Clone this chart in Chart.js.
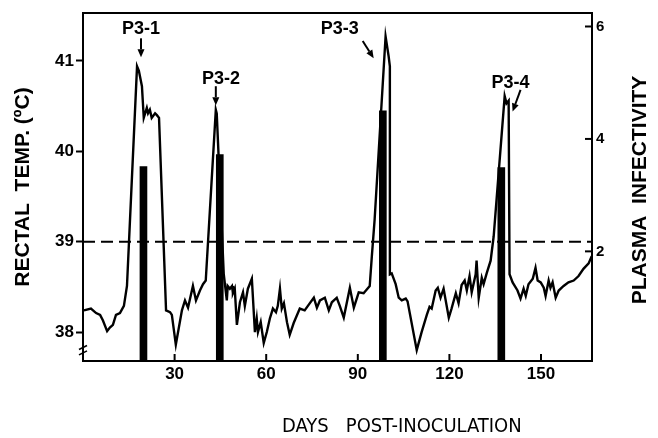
<!DOCTYPE html>
<html><head><meta charset="utf-8">
<script src="https://cdn.jsdelivr.net/npm/chart.js@4/dist/chart.umd.min.js"></script>
<style>html,body{margin:0;padding:0;background:#fff}canvas{display:block}</style>
</head><body>
<canvas id="c" width="658" height="438"></canvas>
<script>
// ---- data ----
const days = [
  0.3,2.6,4.3,5.6,6.5,7.9,8.8,9.8,10.8,12.1,13.4,14.4,
  17.7,18.3,19.3,19.9,20.9,21.3,21.9,22.5,23.6,24.2,24.9,
  27.2,28.5,29.1,30.4,32.4,33.4,34.4,35.0,36.0,37.0,38.3,39.3,40.2,
  43.5,43.8,
  46.1,47.1,47.4,48.1,48.8,49.1,49.7,50.4,51.4,52.4,
  53.0,54.0,55.3,56.3,56.9,57.3,58.2,59.2,60.2,61.2,
  62.2,63.2,63.8,64.5,65.1,65.8,66.8,67.7,69.0,71.0,
  72.6,74.3,75.6,76.6,77.6,79.2,80.5,81.5,83.1,84.1,
  85.4,87.4,88.7,90.3,91.9,93.9,94.6,95.5,
  99.1,100.1,100.5,100.5,101.1,102.4,103.4,104.4,105.7,106.3,
  109.3,110.9,112.6,113.5,114.2,115.5,116.2,117.1,118.1,119.8,
  120.7,122.1,123.0,124.0,125.0,125.7,126.6,127.3,128.6,128.9,
  129.6,130.6,131.2,132.2,133.5,134.5,
  138.1,138.7,139.4,139.7,
  140.7,142.3,143.3,144.3,145.0,145.9,147.3,148.2,148.9,149.9,
  150.9,151.5,152.5,153.1,153.8,154.8,155.8,157.4,159.0,160.7,
  162.3,163.9,165.6,166.6
];
const rectalTemp = [
  38.24,38.26,38.21,38.19,38.13,38.01,38.05,38.08,38.19,38.21,38.29,38.51,
  40.94,40.89,40.72,40.37,40.48,40.42,40.46,40.37,40.42,40.40,40.37,
  38.24,38.22,38.19,37.86,38.24,38.35,38.27,38.36,38.51,38.35,38.46,38.53,38.57,
  40.46,40.42,
  38.64,38.35,38.51,38.48,38.51,38.43,38.48,38.08,38.33,38.44,
  38.29,38.48,38.59,38.00,38.15,38.00,38.11,37.88,38.00,38.15,
  38.26,38.22,38.29,38.48,38.26,38.32,38.11,37.97,38.10,38.26,
  38.24,38.32,38.38,38.27,38.35,38.38,38.24,38.33,38.38,38.29,
  38.16,38.49,38.27,38.44,38.43,38.51,38.84,39.24,
  41.27,41.05,40.94,38.64,38.65,38.53,38.38,38.35,38.37,38.34,
  37.80,38.00,38.19,38.28,38.26,38.46,38.49,38.38,38.48,38.16,
  38.26,38.43,38.32,38.52,38.57,38.46,38.62,38.44,38.64,38.79,
  38.38,38.60,38.53,38.65,38.79,39.06,
  40.61,40.53,40.56,38.64,
  38.55,38.46,38.37,38.48,38.40,38.53,38.59,38.71,38.57,38.55,
  38.49,38.40,38.57,38.49,38.55,38.38,38.46,38.51,38.55,38.57,
  38.62,38.70,38.76,38.84
];
const peakDays = [19.8, 44.8, 98.2, 137.0];
const plasmaInfectivity = [3.51, 3.72, 4.50, 3.49];
const peakLabels = ['P3-1', 'P3-2', 'P3-3', 'P3-4'];
const feverThreshold = 39;
const dayRange = [0, 166.7];
const tempRange = [37.68, 41.53];
const infectivityRange = [0.05, 6.24];
const dayTicks = [30, 60, 90, 120, 150];
const tempTicks = [38, 39, 40, 41];
const infectivityTicks = [2, 4, 6];
const xTitle = 'DAYS   POST-INOCULATION';
const yLeftTitle = 'RECTAL  TEMP. (\u00BAC)';
const yRightTitle = 'PLASMA  INFECTIVITY';

// ---- annotation placement (data space) ----
const labelPlacement = [
  {text:[19.0,41.35], from:[19.0,41.25], to:[19.0,41.04]},
  {text:[45.2,40.80], from:[43.5,40.72], to:[43.5,40.51]},
  {text:[84.1,41.35], from:[91.6,41.22], to:[95.2,41.03]},
  {text:[140.0,40.76], from:[143.3,40.68], to:[140.7,40.44]}
];

const INK = '#000';
const FAM = "'Liberation Sans', Arial, Helvetica, sans-serif";
Chart.defaults.font.family = FAM;
Chart.defaults.color = INK;

function arrow(ctx, x1, y1, x2, y2) {
  const ang = Math.atan2(y2 - y1, x2 - x1);
  const hl = 8, hw = 3.5;
  const bx = x2 - hl * Math.cos(ang), by = y2 - hl * Math.sin(ang);
  ctx.beginPath(); ctx.moveTo(x1, y1); ctx.lineTo(bx, by); ctx.stroke();
  ctx.beginPath();
  ctx.moveTo(x2, y2);
  ctx.lineTo(bx + hw * Math.sin(ang), by - hw * Math.cos(ang));
  ctx.lineTo(bx - hw * Math.sin(ang), by + hw * Math.cos(ang));
  ctx.closePath(); ctx.fill();
}

const decor = {
  id: 'decor',
  afterDraw(chart) {
    const ctx = chart.ctx, a = chart.chartArea;
    const x = chart.scales.x, yT = chart.scales.yT, yI = chart.scales.yI;
    ctx.save();
    ctx.strokeStyle = INK; ctx.fillStyle = INK; ctx.lineWidth = 2; ctx.lineCap = 'butt';
    // top frame
    ctx.beginPath(); ctx.moveTo(a.left - 1, a.top); ctx.lineTo(a.right + 1, a.top); ctx.stroke();
    // inside ticks: bottom
    dayTicks.forEach(v => { const px = x.getPixelForValue(v);
      ctx.beginPath(); ctx.moveTo(px, a.bottom); ctx.lineTo(px, a.bottom - 7); ctx.stroke(); });
    // inside ticks: right
    infectivityTicks.forEach(v => { const py = yI.getPixelForValue(v);
      ctx.beginPath(); ctx.moveTo(a.right, py); ctx.lineTo(a.right - 7, py); ctx.stroke(); });
    // axis break mark on left axis
    ctx.lineWidth = 1.6;
    [37.83, 37.77].forEach(v => { const py = yT.getPixelForValue(v);
      ctx.beginPath(); ctx.moveTo(a.left - 4, py + 2); ctx.lineTo(a.left + 4, py - 2); ctx.stroke(); });
    // peak annotations
    ctx.lineWidth = 2;
    ctx.font = 'bold 18px ' + FAM; ctx.textAlign = 'center'; ctx.textBaseline = 'middle';
    labelPlacement.forEach((p, i) => {
      ctx.fillText(peakLabels[i], x.getPixelForValue(p.text[0]), yT.getPixelForValue(p.text[1]));
      arrow(ctx, x.getPixelForValue(p.from[0]), yT.getPixelForValue(p.from[1]),
                 x.getPixelForValue(p.to[0]), yT.getPixelForValue(p.to[1]));
    });
    // right axis title (reads bottom to top)
    ctx.save();
    ctx.translate(a.right + 48, (a.top + a.bottom) / 2 + 3);
    ctx.rotate(-Math.PI / 2);
    ctx.font = 'bold 21px ' + FAM;
    ctx.fillText(yRightTitle, 0, 0);
    ctx.restore();
    // x axis title
    ctx.font = "20px 'Liberation Sans Narrow', 'DejaVu Sans Condensed', " + FAM;
    ctx.textAlign = 'left'; ctx.textBaseline = 'middle';
    ctx.fillText(xTitle, a.left + 199, a.bottom + 66);
    ctx.restore();
  }
};

new Chart(document.getElementById('c'), {
  type: 'line',
  data: {
    datasets: [
      { label: 'Rectal temperature', data: days.map((d, i) => ({x: d, y: rectalTemp[i]})),
        xAxisID: 'x', yAxisID: 'yT', borderColor: INK, borderWidth: 2.4, pointRadius: 0,
        tension: 0, fill: false, order: 1 },
      { label: 'Fever threshold', data: [{x: dayRange[0], y: feverThreshold}, {x: dayRange[1], y: feverThreshold}],
        xAxisID: 'x', yAxisID: 'yT', borderColor: INK, borderWidth: 2, borderDash: [12, 6],
        pointRadius: 0, fill: false, order: 2 },
      { type: 'bar', label: 'Plasma infectivity', data: peakDays.map((d, i) => ({x: d, y: plasmaInfectivity[i]})),
        xAxisID: 'x', yAxisID: 'yI', backgroundColor: INK, borderWidth: 0, barThickness: 7, order: 3 }
    ]
  },
  options: {
    responsive: false, animation: false, devicePixelRatio: 1,
    layout: { padding: { top: 8, left: 0, right: 0, bottom: 0 } },
    plugins: { legend: { display: false }, tooltip: { enabled: false } },
    scales: {
      x: { type: 'linear', position: 'bottom', min: dayRange[0], max: dayRange[1], offset: false,
        afterBuildTicks: s => { s.ticks = dayTicks.map(v => ({value: v})); },
        afterFit: s => { s.height = 77; },
        grid: { display: false, drawTicks: false, offset: false },
        border: { display: true, color: INK, width: 2 },
        ticks: { padding: 3, font: { size: 17, weight: 'bold' }, color: INK, maxRotation: 0 } },
      yT: { type: 'linear', position: 'left', min: tempRange[0], max: tempRange[1],
        afterBuildTicks: s => { s.ticks = tempTicks.map(v => ({value: v})); },
        afterFit: s => { s.width = 83; },
        grid: { display: true, drawOnChartArea: false, drawTicks: true, tickLength: 7, tickColor: INK, tickWidth: 2 },
        border: { display: true, color: INK, width: 2 },
        ticks: { padding: 2, font: { size: 17, weight: 'bold' }, color: INK },
        title: { display: true, text: yLeftTitle, color: INK, font: { size: 21, weight: 'bold' },
          padding: { top: 11, bottom: 0 } } },
      yI: { type: 'linear', position: 'right', min: infectivityRange[0], max: infectivityRange[1],
        afterBuildTicks: s => { s.ticks = infectivityTicks.map(v => ({value: v})); },
        afterFit: s => { s.width = 66; },
        grid: { display: false, drawOnChartArea: false, drawTicks: false },
        border: { display: true, color: INK, width: 2 },
        ticks: { padding: 4, font: { size: 15, weight: 'bold' }, color: INK } }
    }
  },
  plugins: [decor]
});
</script>
</body></html>
